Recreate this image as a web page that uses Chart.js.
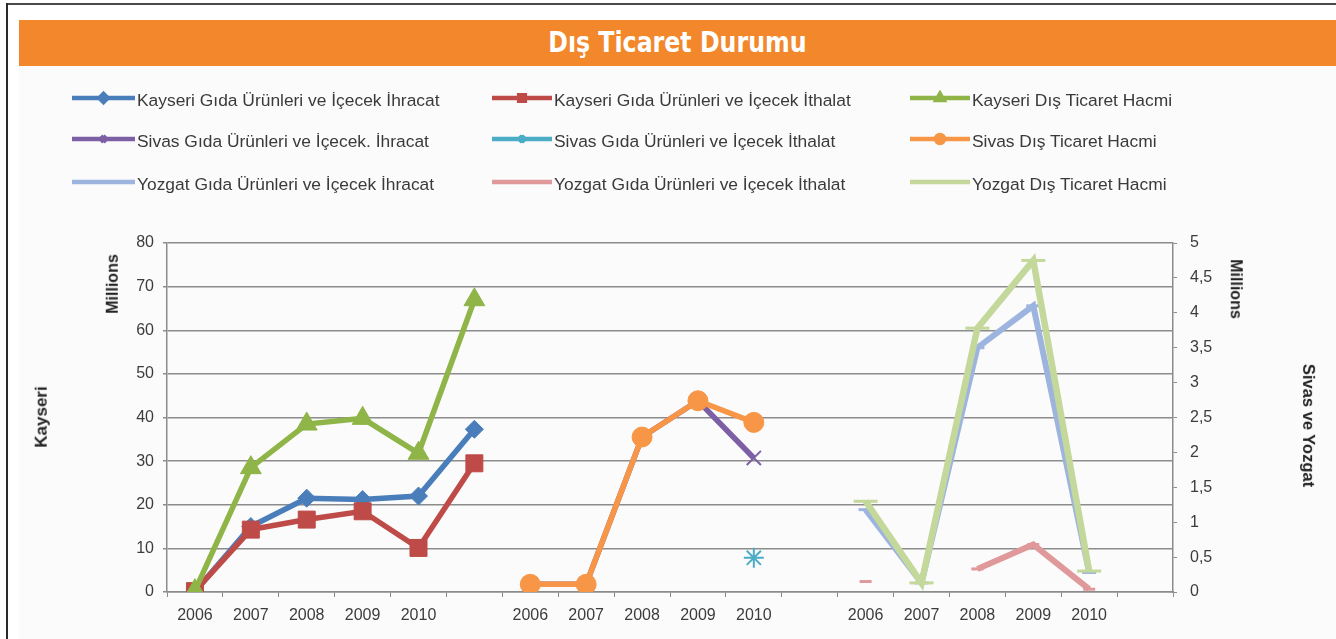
<!DOCTYPE html>
<html>
<head>
<meta charset="utf-8">
<script src="https://cdn.jsdelivr.net/npm/chart.js@4.4.0/dist/chart.umd.min.js"></script>
<style>
html,body{margin:0;padding:0;background:#fff;}
#wrap{position:relative;width:1336px;height:639px;overflow:hidden;background:#fff;}
#panel{position:absolute;left:19px;top:66px;width:1317px;height:573px;background:#fbfbfb;}
#frameTop{position:absolute;left:6px;top:3px;width:1330px;height:2px;background:#4a4a4a;}
#frameLeft{position:absolute;left:6px;top:3px;width:2px;height:636px;background:#2a2a2a;}
#titleBar{position:absolute;left:19px;top:20px;width:1317px;height:46px;background:#F2872C;text-align:center;}
#titleBar span{display:inline-block;color:#fff;font:bold 28px 'DejaVu Sans Condensed','DejaVu Sans',sans-serif;line-height:46px;transform:scaleX(0.94);}
canvas#c{position:absolute;left:0;top:0;}
.leg{position:absolute;height:20px;white-space:nowrap;}
.leg canvas{position:absolute;left:0;top:0;}
.leg span{position:absolute;top:0;font:17.4px 'Liberation Sans',Arial,sans-serif;color:#3a3a3a;line-height:20px;}
.axt{position:absolute;font:bold 16px 'Liberation Sans',Arial,sans-serif;color:#222;white-space:nowrap;transform-origin:center center;}
</style>
</head>
<body>
<div id="wrap">
  <div id="panel"></div>
  <div id="frameTop"></div>
  <div id="frameLeft"></div>
  <div id="titleBar"><span>Dış Ticaret Durumu</span></div>
  <canvas id="c" width="1336" height="639"></canvas>
  <div id="legend"></div>
  <div class="axt" id="tMilL">Millions</div>
  <div class="axt" id="tKay">Kayseri</div>
  <div class="axt" id="tMilR">Millions</div>
  <div class="axt" id="tSY">Sivas ve Yozgat</div>
</div>
<script>
// ---- categories (three groups of years, each followed by an empty slot) ----
const years = ["2006","2007","2008","2009","2010"];
const xLabels = [...years, "", ...years, "", ...years, ""];

// ---- series values (millions) ----
// Kayseri (left axis); 6 points: 2006..2010 + the following empty slot
const kayseriIhracat = [0.1, 15, 21.5, 21.2, 22, 37.3];
const kayseriIthalat = [0.2, 14.3, 16.6, 18.5, 10.1, 29.5];
const kayseriHacim   = [0.3, 28.5, 38.5, 39.8, 31.8, 67];
// Sivas (right axis) 2006..2010
const sivasIhracat = [0.11, 0.11, 2.22, 2.74, 1.92];
const sivasIthalat = [null, null, null, null, 0.49];
const sivasHacim   = [0.11, 0.11, 2.22, 2.74, 2.43];
// Yozgat (right axis) 2006..2010
const yozgatIhracat = [1.18, 0.13, 3.5, 4.1, 0.28];
const yozgatIthalat = [0.15, null, 0.33, 0.68, 0.04];
const yozgatHacim   = [1.3, 0.13, 3.78, 4.75, 0.3];

// ---- tick settings ----
const leftMax = 80, leftStep = 10;
const rightMax = 5, rightStep = 0.5;

const N = xLabels.length;
function place(values, start){
  const arr = new Array(N).fill(null);
  values.forEach((v,i)=>{ arr[start+i] = v; });
  return arr;
}

const series = [
  {label:"Kayseri Gıda Ürünleri ve İçecek İhracat", data:place(kayseriIhracat,0), axis:'y', color:'#4A7EBB', style:'rectRot', r:9, bw:1, lw:5.5, col:0,row:0},
  {label:"Kayseri Gıda Ürünleri ve İçecek İthalat", data:place(kayseriIthalat,0), axis:'y', color:'#BE4B48', style:'rect', r:12, bw:1, lw:5.5, col:1,row:0},
  {label:"Kayseri Dış Ticaret Hacmi", data:place(kayseriHacim,0), axis:'y', color:'#8FB447', style:'triangle', r:12, bw:1, lw:5.5, col:2,row:0},
  {label:"Sivas Gıda Ürünleri ve İçecek. İhracat", data:place(sivasIhracat,6), axis:'y2', color:'#7D5FA6', style:'crossRot', r:10, bw:2, lw:5.5, col:0,row:1},
  {label:"Sivas Gıda Ürünleri ve İçecek İthalat", data:place(sivasIthalat,6), axis:'y2', color:'#4BACC6', style:'star', r:10, bw:2, lw:5.5, col:1,row:1},
  {label:"Sivas Dış Ticaret Hacmi", data:place(sivasHacim,6), axis:'y2', color:'#F79646', style:'circle', r:10, bw:1, lw:5.5, col:2,row:1},
  {label:"Yozgat Gıda Ürünleri ve İçecek İhracat", data:place(yozgatIhracat,12), axis:'y2', color:'#9DB5DE', style:'line', r:7, bw:3, lw:6, col:0,row:2},
  {label:"Yozgat Gıda Ürünleri ve İçecek İthalat", data:place(yozgatIthalat,12), axis:'y2', color:'#E0999A', style:'line', r:6, bw:3, lw:6, col:1,row:2},
  {label:"Yozgat Dış Ticaret Hacmi", data:place(yozgatHacim,12), axis:'y2', color:'#C3D89A', style:'line', r:12, bw:3, lw:6.5, col:2,row:2}
];

const datasets = series.map((s,i)=>({
  label:s.label, data:s.data, yAxisID:s.axis,
  borderColor:s.color, backgroundColor:s.color,
  borderWidth:s.lw, tension:0, spanGaps:false,
  pointStyle:s.style, pointRadius:s.r, pointBorderWidth:s.bw,
  pointBackgroundColor:s.color, pointBorderColor:s.color,
  order: series.length - i
}));

const tickFont = {family:"'Liberation Sans', Arial, sans-serif", size:16};
const gridCol = '#8c8c8c';

new Chart(document.getElementById('c').getContext('2d'), {
  type:'line',
  data:{labels:xLabels, datasets},
  options:{
    responsive:false, animation:false, devicePixelRatio:1,
    layout:{padding:{top:243,left:0,right:0,bottom:0}},
    plugins:{legend:{display:false}, tooltip:{enabled:false}},
    scales:{
      x:{
        offset:true,
        grid:{offset:true, drawOnChartArea:false, drawTicks:true, tickLength:5, color:gridCol},
        border:{color:gridCol, width:1.5},
        ticks:{color:'#3c3c3c', font:tickFont, autoSkip:false, maxRotation:0, minRotation:0, padding:9},
        afterFit(s){ s.height = 47; }
      },
      y:{
        position:'left', min:0, max:leftMax,
        grid:{color:gridCol, lineWidth:1.5, tickLength:4},
        border:{color:gridCol, width:1.5},
        ticks:{stepSize:leftStep, color:'#3c3c3c', font:tickFont, padding:9},
        afterFit(s){ s.width = 167; }
      },
      y2:{
        position:'right', min:0, max:rightMax,
        grid:{drawOnChartArea:false, color:gridCol, tickLength:4},
        border:{color:gridCol, width:1.5},
        ticks:{stepSize:rightStep, color:'#3c3c3c', font:tickFont, padding:13,
               callback:v=>String(Math.round(v*10)/10).replace('.',',')},
        afterFit(s){ s.width = 163; }
      }
    }
  }
});

// ---- HTML legend built from the same series ----
const colX = [[72,137],[492,554],[910,972]];
const rowY = [90,131,174];
const legend = document.getElementById('legend');
series.forEach(s=>{
  const d = document.createElement('div');
  d.className='leg';
  const lx = colX[s.col][0], tx = colX[s.col][1];
  d.style.left = lx+'px'; d.style.top = rowY[s.row]+'px';
  const cv = document.createElement('canvas');
  const w = tx - lx - 2; cv.width = w; cv.height = 20;
  const g = cv.getContext('2d');
  g.strokeStyle = s.color; g.lineWidth = 4.5;
  g.beginPath(); g.moveTo(0,8); g.lineTo(w,8); g.stroke();
  g.fillStyle = s.color;
  Chart.helpers.drawPoint(g, {pointStyle:s.style, radius: s.style==='line'?0:4, borderWidth:1.5, rotation:0}, w/2, 8);
  d.appendChild(cv);
  const sp = document.createElement('span');
  sp.textContent = s.label; sp.style.left = (tx-lx)+'px';
  d.appendChild(sp);
  legend.appendChild(d);
});

// ---- axis titles ----
function placeTitle(id, cx, cy, rot){
  const el = document.getElementById(id);
  const w = el.offsetWidth, h = el.offsetHeight;
  el.style.left = (cx - w/2)+'px'; el.style.top = (cy - h/2)+'px';
  el.style.transform = 'rotate('+rot+'deg)';
}
document.getElementById('tKay').style.fontSize='17px';
document.getElementById('tSY').style.fontSize='16.5px';
placeTitle('tMilL', 113, 284, -90);
placeTitle('tKay', 41, 417, -90);
placeTitle('tMilR', 1236, 289, 90);
placeTitle('tSY', 1308, 425, 90);
</script>
</body>
</html>
